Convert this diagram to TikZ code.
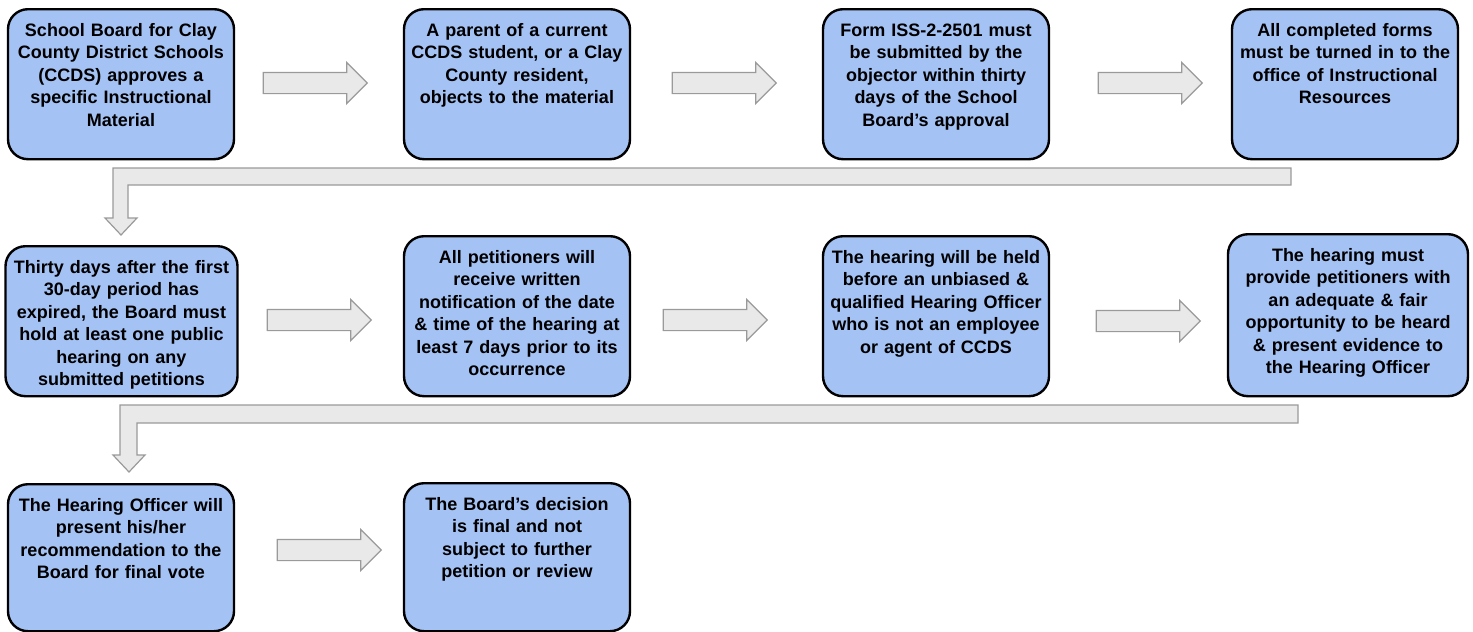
\documentclass[tikz,border=0pt]{standalone}
\usepackage{fontspec}
\setmainfont{Liberation Sans}
\usetikzlibrary{shapes.arrows}
\definecolor{boxblue}{HTML}{A4C2F4}
\definecolor{arrowfill}{HTML}{E9E9E9}
\definecolor{arrowline}{HTML}{9A9A9A}
\tikzset{%
  % boxes of the procedure, text sits at the top
       stage/.style = {rectangle, rounded corners=10pt, draw=black,
                       line width=1.2pt, fill=boxblue, anchor=north,
                       text width=112pt, align=center,
                       inner xsep=0.5pt, inner ysep=7pt, text height=6.6pt,
                       font=\bfseries\fontsize{9}{11.2}\selectfont},
   stagetall/.style = {stage, text depth=59.4pt},
  stageshort/.style = {stage, text depth=54.4pt},
  % grey block arrows between the boxes
  blockarrow/.style = {fill=arrowfill, draw=arrowline, line width=0.6pt},
   flowarrow/.style = {blockarrow, single arrow, inner xsep=0pt,
                       inner ysep=5pt, minimum height=52pt,
                       single arrow head extend=5pt},
}

\begin{document}
\begin{tikzpicture}[x=0.5pt, y=-0.5pt]
  \useasboundingbox (0,0) rectangle (1473,632);

  % first row
  \node (approve)  [stageshort] at (121,8)
    {School Board for Clay\\County District Schools\\(CCDS) approves a\\specific Instructional\\Material};
  \node (object)   [stageshort] at (517,8)
    {A parent of a current\\CCDS student, or a Clay\\County resident,\\objects to the material};
  \node (form)     [stageshort] at (936,8)
    {Form ISS-2-2501 must\\be submitted by the\\objector within thirty\\days of the School\\Board’s approval};
  \node (turnin)   [stageshort] at (1345,8)
    {All completed forms\\must be turned in to the\\office of Instructional\\Resources};

  % second row
  \node (thirty)   [stageshort, text width=115pt] at (121.5,245)
    {Thirty days after the first\\30-day period has\\expired, the Board must\\hold at least one public\\hearing on any\\submitted petitions};
  \node (notify)   [stagetall] at (517,235)
    {All petitioners will\\receive written\\notification of the date\\\& time of the hearing at\\least 7 days prior to its\\occurrence};
  \node (officer)  [stagetall] at (936,235)
    {The hearing will be held\\before an unbiased \&\\qualified Hearing Officer\\who is not an employee\\or agent of CCDS};
  \node (fair)     [stagetall, text width=119pt, text depth=60.4pt] at (1348,233)
    {The hearing must\\provide petitioners with\\an adequate \& fair\\opportunity to be heard\\\& present evidence to\\the Hearing Officer};

  % third row
  \node (recommend) [stage, text depth=52.9pt] at (121,483)
    {The Hearing Officer will\\present his/her\\recommendation to the\\Board for final vote};
  \node (final)     [stage, text depth=53.4pt] at (517,482)
    {The Board’s decision\\is final and not\\subject to further\\petition or review};

  % straight arrows
  \node (a1) [flowarrow] at (310,83) {};
  \node (a2) [flowarrow] at (719,83) {};
  \node (a3) [flowarrow] at (1145,83) {};
  \node (a4) [flowarrow] at (314,320) {};
  \node (a5) [flowarrow] at (710,320) {};
  \node (a6) [flowarrow] at (1143,321) {};
  \node (a7) [flowarrow] at (324,550) {};

  % elbow arrows down to the next row
  \draw[blockarrow] (1291,168) -- (113,168) -- (113,218) -- (105,218)
    -- (121,235) -- (137,218) -- (128,218) -- (128,185) -- (1291,185) -- cycle;
  \draw[blockarrow] (1298,405) -- (120,405) -- (120,455) -- (113,455)
    -- (129,472) -- (145,455) -- (137,455) -- (137,423) -- (1298,423) -- cycle;
\end{tikzpicture}
\end{document}
